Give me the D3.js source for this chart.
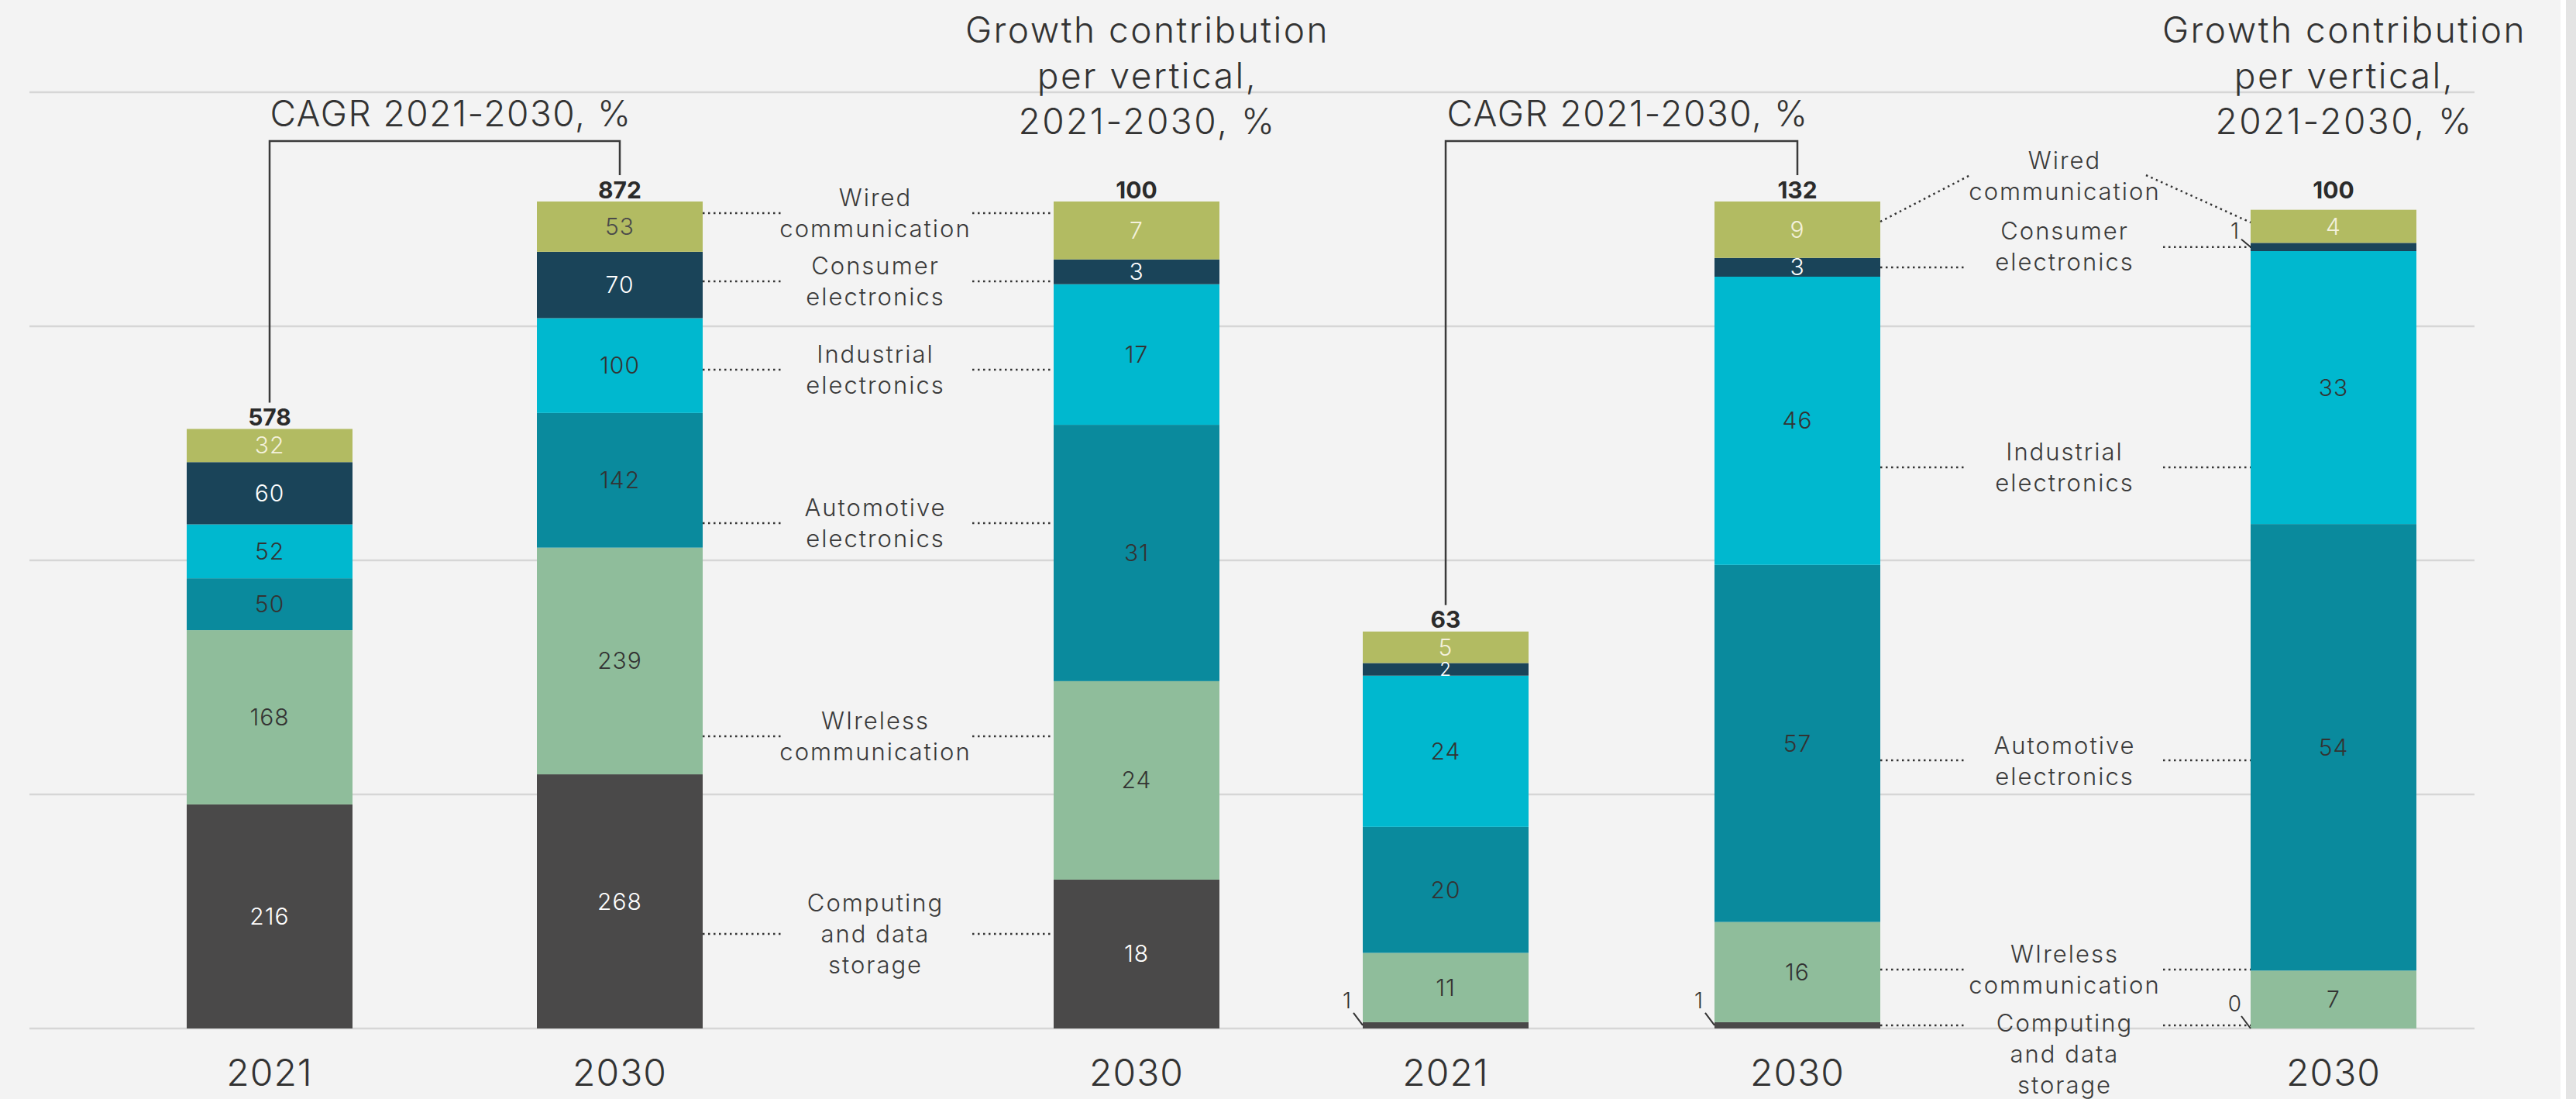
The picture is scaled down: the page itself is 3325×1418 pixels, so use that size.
<!DOCTYPE html>
<html>
<head>
<meta charset="utf-8">
<script src="https://cdn.jsdelivr.net/npm/d3@7"></script>
<style>
  html, body { margin: 0; padding: 0; background: #f3f3f3; }
  svg { display: block; font-family: Inter, "Open Sans", sans-serif; }
</style>
</head>
<body>
<svg id="chart" width="3325" height="1418"></svg>
<script>
// verticals, top of the stack first
const verticals = ["wired", "consumer", "industrial", "automotive", "wireless", "computing"];
const verticalNames = [
  ["Wired", "communication"],
  ["Consumer", "electronics"],
  ["Industrial", "electronics"],
  ["Automotive", "electronics"],
  ["WIreless", "communication"],
  ["Computing", "and data", "storage"]
];

const columnYears = ["2021", "2030", "2030", "2021", "2030", "2030"];
const columnTotals = [578, 872, 100, 63, 132, 100];

// values per column, same order as verticals
const semi2021 = [32, 60, 52, 50, 168, 216];
const semi2030 = [53, 70, 100, 142, 239, 268];
const semiGrowth = [7, 3, 17, 31, 24, 18];
const sub2021 = [5, 2, 24, 20, 11, 1];
const sub2030 = [9, 3, 46, 57, 16, 1];
const subGrowth = [4, 1, 33, 54, 7, 0];

const columnValues = [semi2021, semi2030, semiGrowth, sub2021, sub2030, subGrowth];

const colors = ["#b2bb62", "#1a4459", "#00b8cf", "#0a8a9d", "#8fbd9b", "#4a4949"];
const labelColors = ["#f4f1dc", "#ffffff", "#333333", "#333333", "#333333", "#ffffff"];

// ---- layout ----
const W = 3325, H = 1418;
const baseY = 1327, plotH = 1067;
const barW = 214;
const colX = [348, 800, 1467, 1866, 2320, 3012];
const colFill = [0.725, 1, 1, 0.48, 1, 1];   // share of the plot height each column uses

const svg = d3.select("#chart");

svg.append("rect").attr("width", W).attr("height", H).attr("fill", "#f3f3f3");
svg.append("rect").attr("x", 3305).attr("width", 7).attr("height", H).attr("fill", "#ffffff");
svg.append("rect").attr("x", 3312).attr("width", 13).attr("height", H).attr("fill", "#e4e4e4");

// gridlines
const gridScale = d3.scaleLinear().domain([0, 4]).range([baseY, 119]);
svg.append("g").selectAll("line")
  .data(d3.range(5))
  .enter().append("line")
    .attr("x1", 38).attr("x2", 3194)
    .attr("y1", d => gridScale(d)).attr("y2", d => gridScale(d))
    .attr("stroke", "#d6d6d6").attr("stroke-width", 2.5);

// stacked table, bottom of the stack first
const table = columnValues.map(vals => {
  const row = {};
  verticals.forEach((k, i) => row[k] = vals[i]);
  return row;
});
const stacked = d3.stack().keys(verticals.slice().reverse())(table);

const yScales = columnTotals.map((t, i) =>
  d3.scaleLinear().domain([0, t]).range([baseY, baseY - plotH * colFill[i]]));

function seg(col, key) {
  const s = stacked.find(d => d.key === key)[col];
  const y = yScales[col];
  return { top: y(s[1]), bottom: y(s[0]), mid: (y(s[0]) + y(s[1])) / 2, h: y(s[0]) - y(s[1]) };
}

// bars
const bars = svg.append("g");
stacked.forEach(series => {
  const vi = verticals.indexOf(series.key);
  bars.selectAll(null)
    .data(series.map((d, col) => ({ d, col })))
    .enter().append("rect")
      .attr("x", p => colX[p.col] - barW / 2)
      .attr("width", barW)
      .attr("y", p => yScales[p.col](p.d[1]))
      .attr("height", p => yScales[p.col](p.d[0]) - yScales[p.col](p.d[1]))
      .attr("fill", colors[vi]);
});

// values inside the segments, or outside with a small tick if too thin
const inner = svg.append("g").attr("font-size", 30).attr("font-weight", 300)
  .attr("text-anchor", "middle").attr("letter-spacing", 1);
columnValues.forEach((vals, col) => {
  vals.forEach((v, vi) => {
    const s = seg(col, verticals[vi]);
    if (s.h >= 12) {
      let c = labelColors[vi];
      if (col === 1 && vi === 0) c = "#4a4a4a";
      inner.append("text")
        .attr("x", colX[col]).attr("y", s.mid)
        .attr("dy", "0.35em")
        .attr("fill", c)
        .attr("font-size", s.h < 20 ? 24 : null)
        .text(v);
    } else {
      const ax = colX[col] - barW / 2, ay = s.mid;
      const up = vi === 1 ? 20 : 32;
      inner.append("text")
        .attr("x", ax - 20).attr("y", ay - up)
        .attr("dy", "0.35em")
        .attr("fill", "#333")
        .attr("font-size", 28)
        .text(v);
      svg.append("line")
        .attr("x1", ax - 12).attr("y1", ay - up / 2)
        .attr("x2", ax).attr("y2", ay)
        .attr("stroke", "#333").attr("stroke-width", 2);
    }
  });
});

// totals
svg.append("g").selectAll("text")
  .data(columnTotals)
  .enter().append("text")
    .attr("x", (d, i) => colX[i])
    .attr("y", (d, i) => yScales[i](d) - 15)
    .attr("dy", "0.35em")
    .attr("text-anchor", "middle")
    .attr("font-size", 30).attr("font-weight", 700).attr("fill", "#2b2b2b")
    .text(d => d);

// year labels
svg.append("g").selectAll("text")
  .data(columnYears)
  .enter().append("text")
    .attr("x", (d, i) => colX[i])
    .attr("y", 1384)
    .attr("dy", "0.35em")
    .attr("text-anchor", "middle")
    .attr("font-size", 48).attr("font-weight", 300).attr("fill", "#333")
    .attr("letter-spacing", 1)
    .text(d => d);

// CAGR brackets
function bracket(a, b) {
  const yTop = 182;
  const ya = yScales[a](columnTotals[a]) - 34;
  const yb = yScales[b](columnTotals[b]) - 34;
  svg.append("path")
    .attr("d", `M${colX[a]},${ya}V${yTop}H${colX[b]}V${yb}`)
    .attr("fill", "none").attr("stroke", "#3a3a3a").attr("stroke-width", 2.5);
  svg.append("text")
    .attr("x", (colX[a] + colX[b]) / 2 + 8).attr("y", 147)
    .attr("dy", "0.35em").attr("text-anchor", "middle")
    .attr("font-size", 46).attr("font-weight", 300).attr("fill", "#333")
    .attr("letter-spacing", 1.5)
    .text("CAGR 2021-2030, %");
}
bracket(0, 1);
bracket(3, 4);

// growth titles
const growthTitle = ["Growth contribution", "per vertical,", "2021-2030, %"];
[2, 5].forEach(col => {
  svg.append("text")
    .attr("x", colX[col] + 14).attr("y", 39)
    .attr("text-anchor", "middle")
    .attr("font-size", 46).attr("font-weight", 300).attr("fill", "#333")
    .attr("letter-spacing", 2.5)
    .selectAll("tspan")
    .data(growthTitle)
    .enter().append("tspan")
      .attr("x", colX[col] + 14)
      .attr("dy", (d, i) => i === 0 ? "0.35em" : 59)
      .text(d => d);
});

// vertical names between the 2030 bar and the growth bar
function multiLine(cx, cy, lines) {
  const lh = 40;
  const t = svg.append("text")
    .attr("text-anchor", "middle")
    .attr("font-size", 31).attr("font-weight", 300).attr("fill", "#3a3a3a")
    .attr("letter-spacing", 2);
  lines.forEach((l, i) => {
    t.append("tspan")
      .attr("x", cx)
      .attr("y", cy + (i - (lines.length - 1) / 2) * lh)
      .attr("dy", "0.35em")
      .text(l);
  });
}
function dotted(x1, y1, x2, y2) {
  svg.append("line")
    .attr("x1", x1).attr("y1", y1).attr("x2", x2).attr("y2", y2)
    .attr("stroke", "#333").attr("stroke-width", 2.5)
    .attr("stroke-dasharray", "2.5,4.5");
}

// left panel
const leftTextY = [275, 363, 477, 675, 950, 1205];
const leftCx = 1130;
verticalNames.forEach((lines, i) => {
  multiLine(leftCx, leftTextY[i], lines);
  dotted(colX[1] + barW / 2, leftTextY[i], 1012, leftTextY[i]);
  dotted(1255, leftTextY[i], colX[2] - barW / 2, leftTextY[i]);
});

// right panel
const rightTextY = [227, 318, 603, 982, 1251, 1360];
const rightLeaderY = [null, null, 603, 981, 1251, 1323];
const rightCx = 2665;
verticalNames.forEach((lines, i) => {
  multiLine(rightCx, rightTextY[i], lines);
  const xl = colX[4] + barW / 2, xr = colX[5] - barW / 2;
  if (i === 0) {
    dotted(xl, 286, rightCx - 122, 226);
    dotted(rightCx + 105, 226, xr, 287);
  } else if (i === 1) {
    dotted(xl, seg(4, verticals[i]).mid, 2537, seg(4, verticals[i]).mid);
    dotted(2792, seg(5, verticals[i]).mid, xr, seg(5, verticals[i]).mid);
  } else {
    dotted(xl, rightLeaderY[i], 2537, rightLeaderY[i]);
    dotted(2792, rightLeaderY[i], xr, rightLeaderY[i]);
  }
});
</script>
</body>
</html>
